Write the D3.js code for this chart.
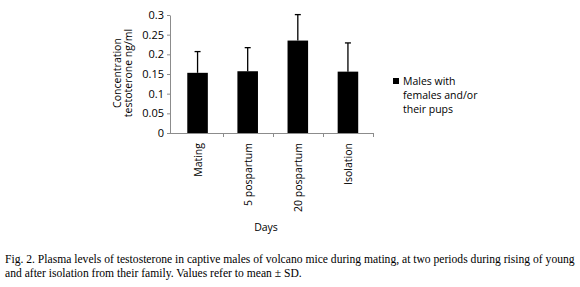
<!DOCTYPE html>
<html>
<head>
<meta charset="utf-8">
<script src="https://cdn.jsdelivr.net/npm/d3@7"></script>
<style>
  html, body { margin: 0; padding: 0; background: #fff; }
  svg { display: block; }
</style>
</head>
<body>
<svg id="chart" width="580" height="287"></svg>
<script>
// ---- data ----
const categories = ["Mating", "5 pospartum", "20 pospartum", "Isolation"];
const means = [0.153, 0.157, 0.235, 0.156];
const sds = [0.054, 0.060, 0.066, 0.073];
const yTicks = [0, 0.05, 0.1, 0.15, 0.2, 0.25, 0.3];
const yTickLabels = ["0", "0.05", "0.1", "0.15", "0.2", "0.25", "0.3"];
const seriesName = ["Males with", "females and/or", "their pups"];
const yTitle = ["Concentration", "testoterone ng/ml"];
const xTitle = "Days";
const caption = [
  "Fig. 2. Plasma levels of testosterone in captive males of volcano mice during mating, at two periods during rising of young",
  "and after isolation from their family. Values refer to mean \u00b1 SD."
];

const svg = d3.select("#chart");
const sans = "'Open Sans', 'Noto Sans', sans-serif";
const axisColor = "#8c8c8c";
const textColor = "#000";

const x0 = 170, x1 = 373, yTop = 15, yBot = 133;
const x = d3.scaleBand().domain(categories).range([172.5, x1]).paddingInner(0.59).paddingOuter(0.295);
const y = d3.scaleLinear().domain([0, 0.3]).range([yBot, yTop]);

// y axis
const yAxis = svg.append("g").attr("transform", `translate(${x0},0)`)
  .call(d3.axisLeft(y).tickValues(yTicks).tickFormat((d, i) => yTickLabels[i]).tickSize(3).tickSizeOuter(0));
yAxis.select(".domain").attr("stroke", axisColor);
yAxis.selectAll(".tick line").attr("stroke", axisColor);
yAxis.selectAll(".tick text").attr("font-family", sans).attr("font-size", 11).attr("fill", textColor).attr("x", -6);

// x axis line with boundary ticks
const step = x.step();
const bounds = d3.range(categories.length + 1).map(i => x.range()[0] + i * step);
svg.append("line").attr("x1", x0).attr("x2", x1).attr("y1", yBot + 0.5).attr("y2", yBot + 0.5).attr("stroke", axisColor);
svg.selectAll(".xb").data(bounds.slice(1)).enter().append("line")
  .attr("x1", d => Math.round(d) + 0.5).attr("x2", d => Math.round(d) + 0.5)
  .attr("y1", yBot).attr("y2", yBot + 4).attr("stroke", axisColor);

// bars
svg.selectAll(".bar").data(categories).enter().append("rect")
  .attr("x", d => x(d)).attr("width", x.bandwidth())
  .attr("y", (d, i) => y(means[i])).attr("height", (d, i) => yBot - y(means[i]))
  .attr("fill", "#000");

// error bars (upper only)
const eb = svg.selectAll(".eb").data(categories).enter().append("g");
eb.append("line")
  .attr("x1", d => x(d) + x.bandwidth() / 2).attr("x2", d => x(d) + x.bandwidth() / 2)
  .attr("y1", (d, i) => y(means[i])).attr("y2", (d, i) => y(means[i] + sds[i]))
  .attr("stroke", "#000").attr("stroke-width", 1.3);
eb.append("line")
  .attr("x1", d => x(d) + x.bandwidth() / 2 - 3).attr("x2", d => x(d) + x.bandwidth() / 2 + 3)
  .attr("y1", (d, i) => y(means[i] + sds[i])).attr("y2", (d, i) => y(means[i] + sds[i]))
  .attr("stroke", "#000").attr("stroke-width", 1.3);

// x labels rotated
svg.selectAll(".xl").data(categories).enter().append("text")
  .attr("transform", d => `translate(${x(d) + x.bandwidth() / 2 + 4},${yBot + 10}) rotate(-90)`)
  .attr("text-anchor", "end")
  .attr("font-family", sans).attr("font-size", 10.5).attr("fill", textColor)
  .text(d => d);

// x title
svg.append("text").attr("x", 266).attr("y", 231).attr("text-anchor", "middle")
  .attr("font-family", sans).attr("font-size", 10.5).attr("fill", textColor).text(xTitle);

// y title
const yt = svg.append("text").attr("transform", "translate(0,73) rotate(-90)")
  .attr("text-anchor", "middle").attr("font-family", sans).attr("font-size", 10.5).attr("fill", textColor);
yt.selectAll("tspan").data(yTitle).enter().append("tspan")
  .attr("x", 0).attr("y", (d, i) => 121 + i * 10.5).text(d => d);

// legend
svg.append("rect").attr("x", 393).attr("y", 78).attr("width", 6).attr("height", 6).attr("fill", "#000");
svg.selectAll(".lg").data(seriesName).enter().append("text")
  .attr("x", 403).attr("y", (d, i) => 85 + i * 14)
  .attr("font-family", sans).attr("font-size", 10.5).attr("fill", textColor).text(d => d);

// caption
const cap = svg.selectAll(".cap").data(caption).enter().append("text")
  .attr("x", 5).attr("y", (d, i) => 263 + i * 14)
  .attr("font-family", "'Liberation Serif', 'Times New Roman', serif").attr("font-size", 12).attr("fill", textColor)
  .text(d => d);
const w0 = cap.nodes()[0].getComputedTextLength();
const fs = 12 * 570 / w0;
cap.attr("font-size", fs);
</script>
</body>
</html>
